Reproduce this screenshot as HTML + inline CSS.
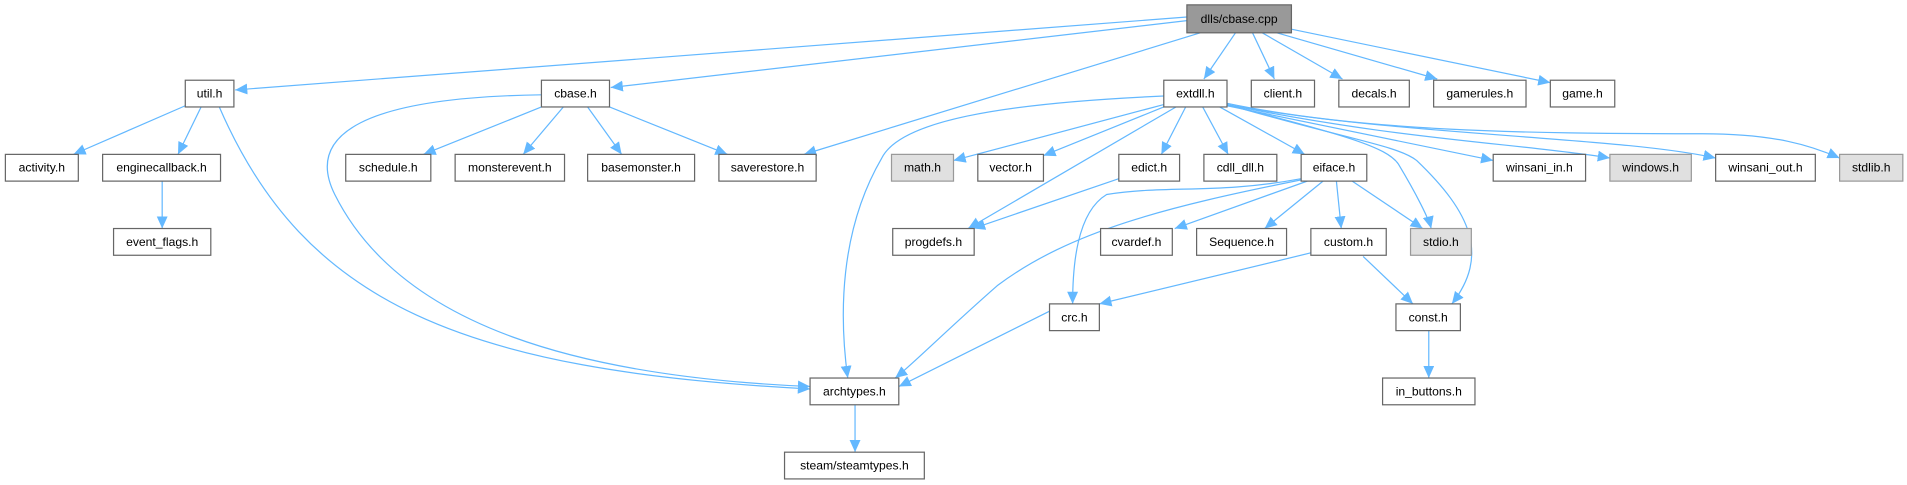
<!DOCTYPE html>
<html><head><meta charset="utf-8"><style>
html,body{margin:0;padding:0;background:#fff;}
svg{display:block;}
text{font-family:"Liberation Sans",sans-serif;font-size:10px;fill:#000;text-anchor:middle;dominant-baseline:central;}
.e{fill:none;stroke:#63b8ff;stroke-width:1;marker-end:url(#a);}
rect{stroke:#666;stroke-width:1;fill:#fff;}
</style></head><body>
<svg width="1907" height="485" viewBox="0 0 1568 399" xmlns="http://www.w3.org/2000/svg">
<defs><marker id="a" markerUnits="userSpaceOnUse" markerWidth="11" markerHeight="9" refX="10" refY="4.5" orient="auto"><path d="M0,0 L10,4.5 L0,9 z" fill="#63b8ff"/></marker></defs>
<g>
<path class="e" d="M976,14 L193,74"/>
<path class="e" d="M976,17 L502,72"/>
<path class="e" d="M987,27 L661,127"/>
<path class="e" d="M1016,27 L990,65"/>
<path class="e" d="M1030,27 L1048,65"/>
<path class="e" d="M1038,27 L1104,65"/>
<path class="e" d="M1050,27 L1182,65"/>
<path class="e" d="M1062,24 L1275,68"/>
<path class="e" d="M152,87 L60,127"/>
<path class="e" d="M165,88 L146,127"/>
<path class="e" d="M180,88 C250,250 380,305 666,320"/>
<path class="e" d="M445,78 C300,80 250,110 275,160 C330,270 480,310 666,318"/>
<path class="e" d="M445,88 L348,127"/>
<path class="e" d="M463,88 L430,127"/>
<path class="e" d="M483,88 L511,127"/>
<path class="e" d="M501,88 L598,127"/>
<path class="e" d="M957,79 C820,85 740,100 725,130 C690,190 690,260 697,311"/>
<path class="e" d="M957,86 L784,132"/>
<path class="e" d="M957,88 L858,128"/>
<path class="e" d="M967,88 L796,188"/>
<path class="e" d="M975,88 L955,127"/>
<path class="e" d="M989,88 L1010,127"/>
<path class="e" d="M1003,88 L1073,127"/>
<path class="e" d="M1009,86 C1100,110 1140,120 1150,135 C1165,160 1175,180 1177,188"/>
<path class="e" d="M1009,86 C1110,115 1150,120 1165,132 C1210,175 1225,210 1194,250"/>
<path class="e" d="M1009,87 L1228,132"/>
<path class="e" d="M1009,86 C1150,115 1250,118 1324,130"/>
<path class="e" d="M1009,86 C1150,112 1330,112 1411,130"/>
<path class="e" d="M1009,85 C1120,108 1250,110 1400,110 C1460,110 1490,120 1513,130"/>
<path class="e" d="M1070,148 C960,170 880,190 820,235 C780,270 750,300 736,311"/>
<path class="e" d="M1070,147 C1000,160 960,152 910,160 C885,175 882,220 882,250"/>
<path class="e" d="M1075,149 L966,188"/>
<path class="e" d="M1088,149 L1040,188"/>
<path class="e" d="M1099,149 L1103,188"/>
<path class="e" d="M1112,149 L1170,188"/>
<path class="e" d="M920,147 L800,188"/>
<path class="e" d="M1078,208 L904,250"/>
<path class="e" d="M1121,211 L1162,250"/>
<path class="e" d="M863,256 L739,318"/>
<path class="e" d="M1175,272 L1175,311"/>
<path class="e" d="M133,149 L133,188"/>
<path class="e" d="M703,333 L703,372"/>
</g>
<g>
<rect x="976" y="4" width="86" height="23" style="fill:#999"/><text x="1019" y="15.5">dlls/cbase.cpp</text>
<rect x="152" y="66" width="40" height="22"/><text x="172" y="77">util.h</text>
<rect x="445" y="66" width="56" height="22"/><text x="473" y="77">cbase.h</text>
<rect x="957" y="66" width="52" height="22"/><text x="983" y="77">extdll.h</text>
<rect x="1029" y="66" width="52" height="22"/><text x="1055" y="77">client.h</text>
<rect x="1101" y="66" width="58" height="22"/><text x="1130" y="77">decals.h</text>
<rect x="1179" y="66" width="76" height="22"/><text x="1217" y="77">gamerules.h</text>
<rect x="1275" y="66" width="53" height="22"/><text x="1301.5" y="77">game.h</text>

<rect x="4" y="127" width="60" height="22"/><text x="34" y="138">activity.h</text>
<rect x="84" y="127" width="97" height="22"/><text x="132.5" y="138">enginecallback.h</text>
<rect x="284" y="127" width="70" height="22"/><text x="319" y="138">schedule.h</text>
<rect x="374" y="127" width="90" height="22"/><text x="419" y="138">monsterevent.h</text>
<rect x="483" y="127" width="88" height="22"/><text x="527" y="138">basemonster.h</text>
<rect x="591" y="127" width="80" height="22"/><text x="631" y="138">saverestore.h</text>
<rect x="733" y="127" width="51" height="22" style="fill:#e0e0e0;stroke:#999"/><text x="758.5" y="138">math.h</text>
<rect x="804" y="127" width="54" height="22"/><text x="831" y="138">vector.h</text>
<rect x="920" y="127" width="50" height="22"/><text x="945" y="138">edict.h</text>
<rect x="990" y="127" width="60" height="22"/><text x="1020" y="138">cdll_dll.h</text>
<rect x="1070" y="127" width="54" height="22"/><text x="1097" y="138">eiface.h</text>
<rect x="1228" y="127" width="76" height="22"/><text x="1266" y="138">winsani_in.h</text>
<rect x="1324" y="127" width="67" height="22" style="fill:#e0e0e0;stroke:#999"/><text x="1357.5" y="138">windows.h</text>
<rect x="1411" y="127" width="82" height="22"/><text x="1452" y="138">winsani_out.h</text>
<rect x="1513" y="127" width="52" height="22" style="fill:#e0e0e0;stroke:#999"/><text x="1539" y="138">stdlib.h</text>

<rect x="93" y="188" width="80" height="22"/><text x="133" y="199">event_flags.h</text>
<rect x="734" y="188" width="67" height="22"/><text x="767.5" y="199">progdefs.h</text>
<rect x="905" y="188" width="59" height="22"/><text x="934.5" y="199">cvardef.h</text>
<rect x="984" y="188" width="74" height="22"/><text x="1021" y="199">Sequence.h</text>
<rect x="1078" y="188" width="62" height="22"/><text x="1109" y="199">custom.h</text>
<rect x="1160" y="188" width="50" height="22" style="fill:#e0e0e0;stroke:#999"/><text x="1185" y="199">stdio.h</text>

<rect x="863" y="250" width="41" height="22"/><text x="883.5" y="261">crc.h</text>
<rect x="1148" y="250" width="53" height="22"/><text x="1174.5" y="261">const.h</text>

<rect x="666" y="311" width="73" height="22"/><text x="702.5" y="322">archtypes.h</text>
<rect x="1137" y="311" width="76" height="22"/><text x="1175" y="322">in_buttons.h</text>
<rect x="645" y="372" width="115" height="22"/><text x="702.5" y="383">steam/steamtypes.h</text>
</g>
</svg>
</body></html>
